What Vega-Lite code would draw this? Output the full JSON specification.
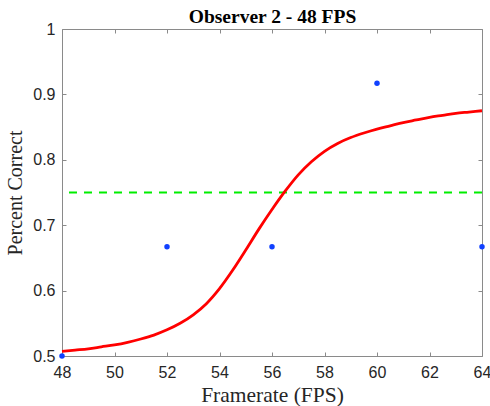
{
  "$schema": "https://vega.github.io/schema/vega-lite/v6.json",
  "width": 420,
  "height": 327,
  "autosize": {"type": "none"},
  "padding": {"left": 62, "top": 29, "right": 8, "bottom": 50},
  "background": "#ffffff",
  "config": {
    "view": {"stroke": null},
    "axis": {
      "grid": false,
      "domainColor": "#8a8a8a",
      "domainWidth": 1,
      "tickColor": "#8a8a8a",
      "tickWidth": 1,
      "tickSize": -4,
      "labelFont": "Liberation Sans",
      "labelFontSize": 16,
      "labelColor": "#262626",
      "titleFont": "Liberation Serif",
      "titleFontSize": 20,
      "titleFontWeight": "normal",
      "titleColor": "#262626"
    }
  },
  "datasets": {
    "curve": [
      {"fps": 48, "pc": 0.507},
      {"fps": 48.5, "pc": 0.509},
      {"fps": 49, "pc": 0.511},
      {"fps": 49.5, "pc": 0.514},
      {"fps": 50, "pc": 0.517},
      {"fps": 50.5, "pc": 0.521},
      {"fps": 51, "pc": 0.526},
      {"fps": 51.5, "pc": 0.532},
      {"fps": 52, "pc": 0.540},
      {"fps": 52.5, "pc": 0.550},
      {"fps": 53, "pc": 0.563},
      {"fps": 53.5, "pc": 0.580},
      {"fps": 54, "pc": 0.603},
      {"fps": 54.5, "pc": 0.631},
      {"fps": 55, "pc": 0.662},
      {"fps": 55.5, "pc": 0.694},
      {"fps": 56, "pc": 0.724},
      {"fps": 56.5, "pc": 0.752},
      {"fps": 57, "pc": 0.777},
      {"fps": 57.5, "pc": 0.797},
      {"fps": 58, "pc": 0.813},
      {"fps": 58.5, "pc": 0.825},
      {"fps": 59, "pc": 0.834},
      {"fps": 59.5, "pc": 0.841},
      {"fps": 60, "pc": 0.847},
      {"fps": 60.5, "pc": 0.852},
      {"fps": 61, "pc": 0.857},
      {"fps": 61.5, "pc": 0.861},
      {"fps": 62, "pc": 0.865},
      {"fps": 62.5, "pc": 0.868},
      {"fps": 63, "pc": 0.871},
      {"fps": 63.5, "pc": 0.873},
      {"fps": 64, "pc": 0.875}
    ],
    "obs": [
      {"fps": 48, "pc": 0.5},
      {"fps": 52, "pc": 0.667},
      {"fps": 56, "pc": 0.667},
      {"fps": 60, "pc": 0.917},
      {"fps": 64, "pc": 0.667}
    ],
    "thresh": [
      {"level": 0.75}
    ]
  },
  "resolve": {"axis": {"x": "independent", "y": "independent"}},
  "layer": [
    {
      "data": {"name": "thresh"},
      "mark": {"type": "rule", "color": "#00ee00", "strokeWidth": 2, "strokeDash": [8, 7]},
      "encoding": {
        "y": {"field": "level", "type": "quantitative", "scale": {"domain": [0.5, 1], "nice": false, "zero": false}, "axis": null}
      }
    },
    {
      "data": {"name": "curve"},
      "mark": {"type": "line", "color": "#ff0000", "strokeWidth": 2.8, "interpolate": "monotone"},
      "encoding": {
        "x": {
          "field": "fps", "type": "quantitative",
          "scale": {"domain": [48, 64], "nice": false, "zero": false},
          "axis": {"orient": "bottom", "title": "Framerate (FPS)", "titleFontSize": 21.5, "values": [48, 50, 52, 54, 56, 58, 60, 62, 64], "labelPadding": 12, "titlePadding": 4, "labelFlush": false}
        },
        "y": {
          "field": "pc", "type": "quantitative",
          "scale": {"domain": [0.5, 1], "nice": false, "zero": false},
          "axis": {"orient": "left", "title": "Percent Correct", "values": [0.5, 0.6, 0.7, 0.8, 0.9, 1], "format": "~g", "labelPadding": 11, "titlePadding": 7, "labelFlush": false}
        }
      }
    },
    {
      "data": {"name": "obs"},
      "mark": {"type": "circle", "color": "#1040ff", "opacity": 1, "size": 30},
      "encoding": {
        "x": {
          "field": "fps", "type": "quantitative",
          "axis": {"orient": "top", "title": "Observer 2 - 48 FPS", "titleFont": "Liberation Serif", "titleFontSize": 19.5, "titleFontWeight": "bold", "titleColor": "#000000", "titleBaseline": "alphabetic", "titlePadding": 6, "labels": false, "values": [48, 50, 52, 54, 56, 58, 60, 62, 64]}
        },
        "y": {
          "field": "pc", "type": "quantitative",
          "axis": {"orient": "right", "title": null, "labels": false, "values": [0.5, 0.6, 0.7, 0.8, 0.9, 1]}
        }
      }
    }
  ]
}
